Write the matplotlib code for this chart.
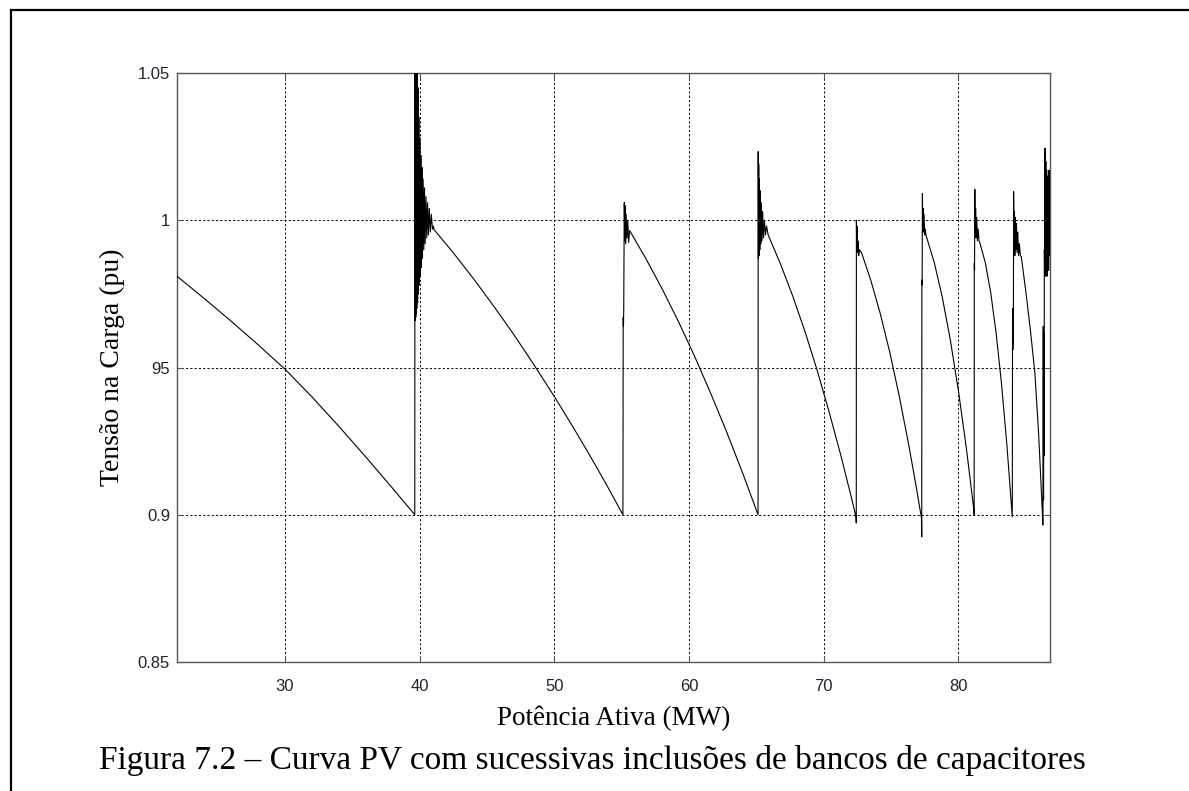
import matplotlib
matplotlib.use("Agg")
import matplotlib.pyplot as plt
from matplotlib.lines import Line2D

# =========================================
# DADOS
# =========================================
# ramo 1 (sem capacitor)
ramo1_p = [22.0, 24.0, 26.0, 28.0, 30.0, 32.0, 34.0, 36.0, 38.0, 39.65]
ramo1_v = [0.981, 0.9735, 0.9658, 0.9578, 0.9495, 0.9401, 0.9301, 0.9197, 0.909, 0.900]

# transitorio apos 1o banco
trans1_p = [39.66, 39.68, 39.70, 39.72, 39.74, 39.76, 39.78, 39.80, 39.83, 39.86,
            39.89, 39.92, 39.95, 39.98, 40.02, 40.06, 40.10, 40.14, 40.18, 40.22,
            40.27, 40.32, 40.37, 40.42, 40.48, 40.54, 40.60, 40.66, 40.73, 40.80,
            40.88, 40.96, 41.05]
trans1_v = [1.07, 0.966, 1.07, 0.967, 1.065, 0.968, 1.06, 0.970, 1.055, 0.972,
            1.045, 0.975, 1.035, 0.978, 1.028, 0.981, 1.022, 0.984, 1.018, 0.987,
            1.014, 0.990, 1.011, 0.992, 1.008, 0.994, 1.006, 0.995, 1.004, 0.996,
            1.002, 0.997, 0.998]

ramo2_p = [41.05, 42.5, 44.0, 45.5, 47.0, 48.5, 50.0, 51.5, 53.0, 54.0, 55.1]
ramo2_v = [0.997, 0.989, 0.9802, 0.9709, 0.9612, 0.9509, 0.9402, 0.929, 0.9173,
           0.9092, 0.900]

trans2_p = [55.12, 55.14, 55.16, 55.18, 55.20, 55.23, 55.26, 55.30, 55.34, 55.40,
            55.46, 55.52]
trans2_v = [0.967, 0.964, 0.970, 0.989, 1.006, 0.993, 1.005, 0.992, 1.002, 0.994,
            1.000, 0.9925]

ramo3_p = [55.6, 56.8, 58.0, 59.2, 60.4, 61.6, 62.8, 64.0, 65.13]
ramo3_v = [0.9965, 0.987, 0.9768, 0.9658, 0.954, 0.9414, 0.9281, 0.914, 0.900]

trans3_p = [65.14, 65.16, 65.18, 65.20, 65.23, 65.26, 65.29, 65.33, 65.37, 65.42,
            65.47, 65.53, 65.60, 65.68, 65.76]
trans3_v = [1.0233, 0.987, 1.019, 0.988, 1.014, 0.990, 1.010, 0.992, 1.006, 0.993,
            1.003, 0.994, 1.000, 0.995, 0.998]

ramo4_p = [65.88, 66.8, 67.7, 68.6, 69.5, 70.4, 71.3, 72.0, 72.4, 72.42]
ramo4_v = [0.995, 0.9851, 0.9743, 0.9624, 0.9493, 0.935, 0.9197, 0.9069, 0.8993, 0.8972]

trans4_p = [72.43, 72.45, 72.48, 72.51, 72.55, 72.60, 72.66]
trans4_v = [1.000, 0.990, 0.998, 0.989, 0.993, 0.988, 0.990]

ramo5_p = [72.81, 73.5, 74.2, 74.9, 75.6, 76.3, 76.9, 77.26, 77.28]
ramo5_v = [0.989, 0.9796, 0.9683, 0.9553, 0.9405, 0.9241, 0.9087, 0.8988, 0.8925]

trans5_p = [77.29, 77.31, 77.33, 77.35, 77.38, 77.41, 77.45, 77.50, 77.55]
trans5_v = [0.9797, 0.978, 1.0091, 0.997, 1.004, 0.996, 1.002, 0.995, 0.997]

ramo6_p = [77.59, 78.2, 78.8, 79.4, 80.0, 80.6, 81.15, 81.17]
ramo6_v = [0.995, 0.9858, 0.974, 0.9594, 0.9422, 0.9223, 0.9016, 0.900]

trans6_p = [81.18, 81.20, 81.22, 81.25, 81.28, 81.32, 81.36, 81.41, 81.47, 81.53]
trans6_v = [0.9855, 0.983, 1.0105, 0.996, 1.004, 0.994, 1.001, 0.993, 0.997, 0.993]

ramo7_p = [81.6, 82.0, 82.4, 82.8, 83.2, 83.6, 84.0]
ramo7_v = [0.9922, 0.9856, 0.9754, 0.9617, 0.9445, 0.9237, 0.8993]

trans7_p = [84.02, 84.04, 84.06, 84.08, 84.10, 84.13, 84.16, 84.19, 84.23, 84.27,
            84.31, 84.36, 84.41, 84.47, 84.53, 84.60]
trans7_v = [0.970, 0.956, 0.968, 0.958, 1.0097, 0.990, 1.003, 0.988, 1.001, 0.990,
            0.999, 0.989, 0.996, 0.988, 0.992, 0.988]

ramo8_p = [84.67, 85.0, 85.35, 85.68, 85.95, 86.25, 86.27]
ramo8_v = [0.9876, 0.976, 0.9625, 0.948, 0.928, 0.8993, 0.8965]

trans8_p = [86.28, 86.30, 86.32, 86.34, 86.36, 86.38, 86.40, 86.43, 86.46, 86.49,
            86.52, 86.55, 86.58, 86.61, 86.64, 86.67, 86.70, 86.73, 86.76, 86.79]
trans8_v = [0.903, 0.964, 0.905, 0.962, 0.920, 0.990, 0.984, 1.0245, 0.981, 1.020,
            0.985, 1.017, 0.981, 1.015, 0.990, 1.012, 0.983, 1.017, 0.988, 1.010]

x_ticks = [30, 40, 50, 60, 70, 80]
y_ticks = [0.85, 0.9, 0.95, 1.0, 1.05]
y_tick_labels = ["0.85", "0.9", "95", "1", "1.05"]

# junta tudo numa curva so
P = (ramo1_p + trans1_p + ramo2_p + trans2_p + ramo3_p + trans3_p + ramo4_p +
     trans4_p + ramo5_p + trans5_p + ramo6_p + trans6_p + ramo7_p + trans7_p +
     ramo8_p + trans8_p)
V = (ramo1_v + trans1_v + ramo2_v + trans2_v + ramo3_v + trans3_v + ramo4_v +
     trans4_v + ramo5_v + trans5_v + ramo6_v + trans6_v + ramo7_v + trans7_v +
     ramo8_v + trans8_v)

# =========================================
# GRAFICO
# =========================================
W, H = 1189, 791
fig = plt.figure(figsize=(W / 100, H / 100), dpi=100)
fig.patch.set_facecolor("white")

ax = fig.add_axes([177 / W, 1 - 662 / H, (1050 - 177) / W, (662 - 73) / H])
ax.plot(P, V, color="black", lw=0.8, zorder=3)

ax.set_xlim(22, 86.8)
ax.set_ylim(0.85, 1.05)
ax.set_xticks(x_ticks)
ax.set_yticks(y_ticks)
ax.set_yticklabels(y_tick_labels)

ax.grid(True, color="black", lw=0.7, linestyle=(0, (2.2, 2.2)), zorder=1)
for s in ax.spines.values():
    s.set_color("#555555")
    s.set_linewidth(1.0)

ax.tick_params(direction="in", length=4, width=0.8, color="#555555",
               top=True, right=True, labelsize=12, labelcolor="#222233",
               labelfontfamily="Liberation Sans")
ax.tick_params(axis="x", pad=12)
ax.tick_params(axis="y", pad=5)

ax.set_xlabel("Potência Ativa (MW)", family="Liberation Serif", fontsize=19.5)
ax.xaxis.set_label_coords(0.5, -0.075)
ax.set_ylabel("Tensão na Carga (pu)", family="Liberation Serif", fontsize=20)
ax.yaxis.set_label_coords(-0.06, 0.5)

fig.text(592 / W, 1 - 760 / H,
         "Figura 7.2 – Curva PV com sucessivas inclusões de bancos de capacitores",
         ha="center", va="center", family="Liberation Serif", fontsize=24)

# moldura da figura (esquerda e topo)
fig.add_artist(Line2D([11 / W, 11 / W], [0, 1 - 10 / H], transform=fig.transFigure,
                      color="black", lw=1.6))
fig.add_artist(Line2D([11 / W, 1], [1 - 10 / H, 1 - 10 / H], transform=fig.transFigure,
                      color="black", lw=1.6))

fig.savefig("out.png", dpi=100)
